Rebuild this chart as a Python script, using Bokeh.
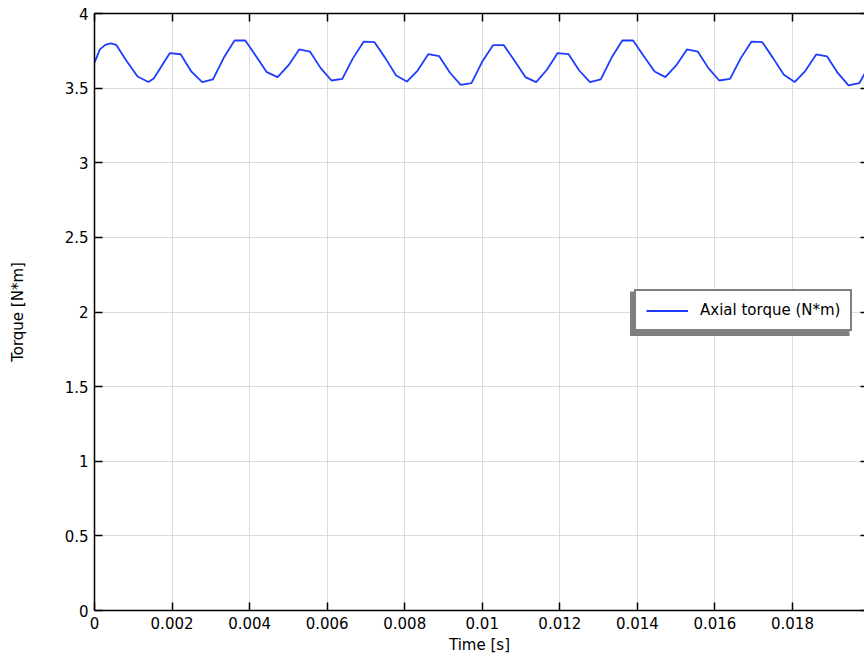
from bokeh.plotting import figure
from bokeh.models import (LinearAxis, FixedTicker, Range1d, Legend, LegendItem,
                          BoxAnnotation, ColumnDataSource)
from bokeh.embed import file_html
from bokeh.resources import INLINE

# ---- data ----
time_s = [0.0, 0.000139, 0.000278, 0.000417, 0.000556, 0.000833, 0.001111, 0.001389,
          0.001528, 0.001944, 0.002222, 0.0025, 0.002778, 0.003056, 0.003333, 0.003611,
          0.003889, 0.004167, 0.004444, 0.004722, 0.005, 0.005278, 0.005556, 0.005833,
          0.006111, 0.006389, 0.006667, 0.006944, 0.007222, 0.0075, 0.007778, 0.008056,
          0.008333, 0.008611, 0.008889, 0.009167, 0.009444, 0.009722, 0.01, 0.010278,
          0.010556, 0.010833, 0.011111, 0.011389, 0.011667, 0.011944, 0.012222, 0.0125,
          0.012778, 0.013056, 0.013333, 0.013611, 0.013889, 0.014167, 0.014444, 0.014722,
          0.015, 0.015278, 0.015556, 0.015833, 0.016111, 0.016389, 0.016667, 0.016944,
          0.017222, 0.0175, 0.017778, 0.018056, 0.018333, 0.018611, 0.018889, 0.019167,
          0.019444, 0.019722, 0.02]
axial_torque = [3.67, 3.76, 3.79, 3.80, 3.79, 3.68, 3.578, 3.541,
                3.565, 3.735, 3.727, 3.610, 3.540, 3.558, 3.703, 3.819,
                3.819, 3.714, 3.607, 3.574, 3.652, 3.759, 3.745, 3.634,
                3.551, 3.562, 3.701, 3.812, 3.808, 3.701, 3.585, 3.544,
                3.618, 3.728, 3.714, 3.603, 3.522, 3.533, 3.678, 3.788,
                3.788, 3.683, 3.574, 3.540, 3.623, 3.735, 3.728, 3.618,
                3.540, 3.558, 3.703, 3.819, 3.819, 3.714, 3.611, 3.574,
                3.652, 3.759, 3.745, 3.634, 3.551, 3.562, 3.701, 3.812,
                3.808, 3.701, 3.589, 3.541, 3.616, 3.726, 3.713, 3.602,
                3.518, 3.533, 3.66]

x_ticks = [0, 0.002, 0.004, 0.006, 0.008, 0.01, 0.012, 0.014, 0.016, 0.018]
x_tick_labels = ["0", "0.002", "0.004", "0.006", "0.008", "0.01", "0.012", "0.014",
                 "0.016", "0.018"]
y_ticks = [0, 0.5, 1, 1.5, 2, 2.5, 3, 3.5, 4]
y_tick_labels = ["0", "0.5", "1", "1.5", "2", "2.5", "3", "3.5", "4"]
series_name = "Axial torque (N*m)"

FONT = "DejaVu Sans"
FS = "15px"
LINE_COLOR = "#1e3cff"

src = ColumnDataSource(data=dict(t=time_s, v=axial_torque))

p = figure(width=864, height=656, output_backend="svg", toolbar_location=None,
           x_range=Range1d(0, 0.019857), y_range=Range1d(0, 4),
           min_border_left=94, min_border_right=0, min_border_top=13,
           min_border_bottom=46, x_axis_label="Time [s]", y_axis_label="Torque [N*m]")
p.outline_line_color = None
p.background_fill_color = "white"
p.border_fill_color = "white"

xt = FixedTicker(ticks=x_ticks)
yt = FixedTicker(ticks=y_ticks)
p.xaxis.ticker = xt
p.yaxis.ticker = yt
p.xgrid.ticker = xt
p.ygrid.ticker = yt
p.xaxis.major_label_overrides = dict(zip(x_ticks, x_tick_labels))
p.yaxis.major_label_overrides = dict(zip(y_ticks, y_tick_labels))

for ax in (p.xaxis, p.yaxis):
    ax.axis_line_color = "black"
    ax.axis_line_width = 1.5
    ax.major_tick_line_color = "black"
    ax.major_tick_line_width = 1.5
    ax.major_tick_in = 8
    ax.major_tick_out = 0
    ax.minor_tick_line_color = None
    ax.major_label_text_font = FONT
    ax.major_label_text_font_size = FS
    ax.major_label_text_color = "black"
    ax.axis_label_text_font = FONT
    ax.axis_label_text_font_size = FS
    ax.axis_label_text_font_style = "normal"
    ax.axis_label_text_color = "black"

p.xaxis.major_label_standoff = 6
p.xaxis.axis_label_standoff = 4
p.yaxis.major_label_standoff = 6
p.yaxis.axis_label_standoff = 35

for g in (p.xgrid, p.ygrid):
    g.grid_line_color = "#dcdcdc"
    g.grid_line_width = 1

top = LinearAxis(ticker=xt, major_label_overrides={t: "" for t in x_ticks},
                 major_label_standoff=0,
                 major_tick_in=8, major_tick_out=0, minor_tick_line_color=None,
                 axis_line_color="black", axis_line_width=1.5,
                 major_tick_line_color="black", major_tick_line_width=1.5)
p.add_layout(top, "above")
right = LinearAxis(ticker=yt, major_label_overrides={t: "" for t in y_ticks},
                   major_label_standoff=0,
                   major_tick_in=4, major_tick_out=0, minor_tick_line_color=None,
                   axis_line_color=None, major_tick_line_color="black",
                   major_tick_line_width=1.5)
p.add_layout(right, "right")

r = p.line(x="t", y="v", source=src, line_color=LINE_COLOR, line_width=1.8)

shadow = BoxAnnotation(left=629.5, right=849, top=291, bottom=335.5,
                       left_units="canvas", right_units="canvas",
                       top_units="canvas", bottom_units="canvas",
                       fill_color="#7f7f7f", fill_alpha=1.0, line_color=None)
p.add_layout(shadow)

legend = Legend(items=[LegendItem(label=series_name, renderers=[r])],
                location=(540, 279), margin=0, padding=10,
                glyph_width=42, glyph_height=15, label_height=15,
                label_standoff=12, spacing=0,
                border_line_color="black", border_line_width=2,
                background_fill_color="white", background_fill_alpha=1.0,
                label_text_font=FONT, label_text_font_size=FS,
                label_text_color="black")
p.add_layout(legend)

open("out.html", "w").write(file_html(p, INLINE))
